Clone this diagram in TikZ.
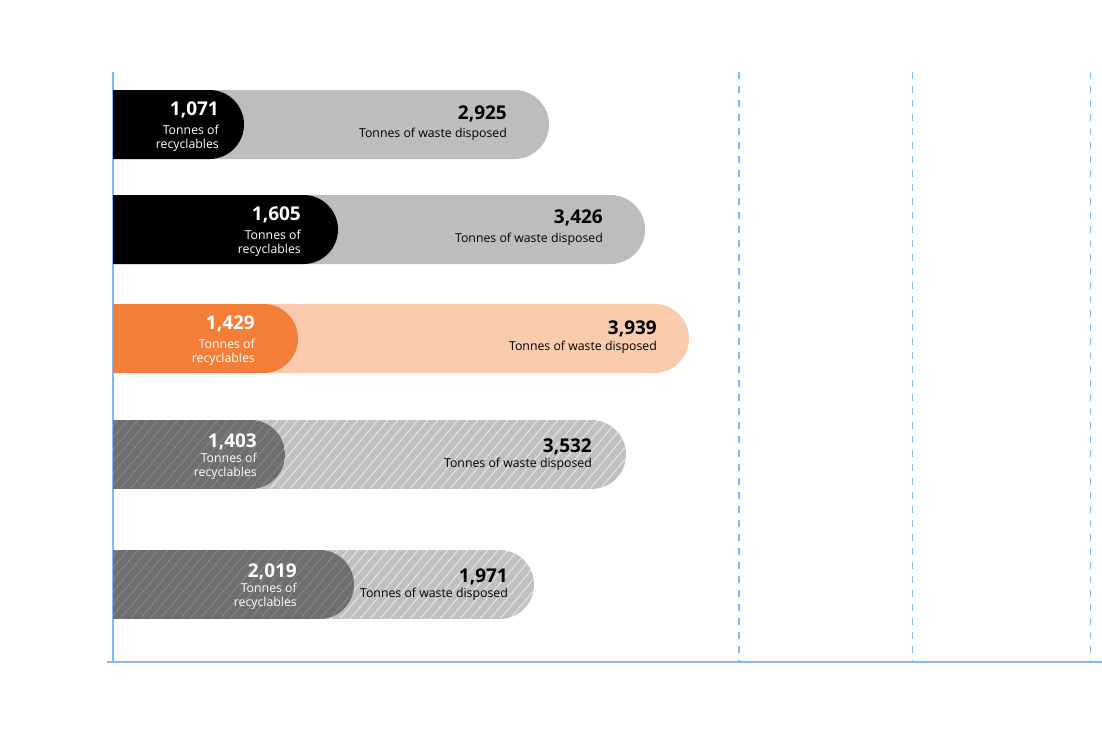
\documentclass[tikz,border=0pt]{standalone}
\usepackage{fontspec}
\setmainfont{Open Sans}
\usetikzlibrary{positioning}
\definecolor{axisblue}{HTML}{85BAEC}
\definecolor{wastegrey}{HTML}{BDBEBB}
\definecolor{recyorange}{HTML}{F37E37}
\definecolor{wasteorange}{HTML}{FBCBAE}
\definecolor{hatchdark}{HTML}{6E6E6E}
\definecolor{hatchlight}{HTML}{C0C1BE}
\newcommand{\pill}[3]{(#1,#2) -- (#3-34.5,#2) arc[start angle=90,end angle=-90,radius=34.5pt] -- (#1,#2+69) -- cycle}

\begin{document}
\begin{tikzpicture}[x=1pt,y=-1pt,
  num/.style={anchor=base east,inner sep=0pt,font=\fontsize{19}{19}\selectfont\bfseries},
  lbl/.style={anchor=base east,inner sep=0pt,align=right,font=\fontsize{12.3}{14.5}\selectfont},
  grid/.style={axisblue,line width=1.5pt,dash pattern=on 7pt off 7pt}]
\useasboundingbox (0,0) rectangle (1102,731);

\foreach \x in {739,912.5,1090.5} {
\draw[grid] (\x,72) -- (\x,662);
}
\draw[axisblue,line width=1.5pt] (113,72) -- (113,662);
\draw[axisblue,line width=1.5pt] (107,662) -- (1102,662);

% plain bars
\fill[wastegrey] \pill{113}{90}{549};
\fill[black] \pill{113}{90}{244};
\fill[wastegrey] \pill{113}{195}{645};
\fill[black] \pill{113}{195}{338};
\fill[wasteorange] \pill{113}{304}{689};
\fill[recyorange] \pill{113}{304}{298};

% hatched bars
\foreach \t/\d/\w in {420/285/626,550/354/534} {
\begin{scope}
\clip \pill{113}{\t}{\w};
\fill[hatchlight] (113,\t) rectangle (\w,\t+69);
\foreach \k in {-60,-50,...,640} \draw[white!70!hatchlight,line width=0.8pt] (\k,\t+69) -- ++(58,-69);
\end{scope}
\begin{scope}
\clip \pill{113}{\t}{\d};
\fill[hatchdark] (113,\t) rectangle (\d,\t+69);
\foreach \k in {-60,-50,...,400} \draw[white!18!hatchdark,line width=0.8pt] (\k,\t+69) -- ++(58,-69);
\end{scope}
}

\node (rn1) at (219,115) [num,white] {1,071};
\node (rl1) at (219,148.5) [lbl,white] {Tonnes of\\recyclables};
\node (wn1) at (507,119) [num] {2,925};
\node (wl1) at (507,137) [lbl] {Tonnes of waste disposed};

\node (rn2) at (301,220) [num,white] {1,605};
\node (rl2) at (301,253.5) [lbl,white] {Tonnes of\\recyclables};
\node (wn2) at (603,223) [num] {3,426};
\node (wl2) at (603,242) [lbl] {Tonnes of waste disposed};

\node (rn3) at (255,329) [num,white] {1,429};
\node (rl3) at (255,362.5) [lbl,white] {Tonnes of\\recyclables};
\node (wn3) at (657,334) [num] {3,939};
\node (wl3) at (657,350) [lbl] {Tonnes of waste disposed};

\node (rn4) at (257,447) [num,white] {1,403};
\node (rl4) at (257,476.5) [lbl,white] {Tonnes of\\recyclables};
\node (wn4) at (592,452) [num] {3,532};
\node (wl4) at (592,467) [lbl] {Tonnes of waste disposed};

\node (rn5) at (297,577) [num,white] {2,019};
\node (rl5) at (297,606.5) [lbl,white] {Tonnes of\\recyclables};
\node (wn5) at (508,582) [num] {1,971};
\node (wl5) at (508,597) [lbl] {Tonnes of waste disposed};
\end{tikzpicture}
\end{document}
